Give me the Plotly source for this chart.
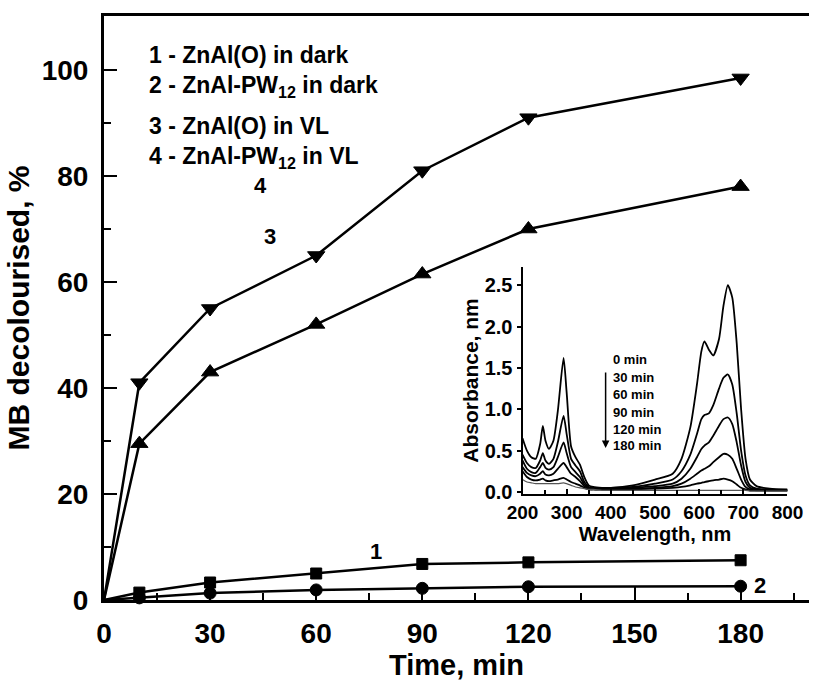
import plotly.graph_objects as go

# ---------------- main chart data ----------------
TIME = [0, 10, 30, 60, 90, 120, 180]
S1_ZNALO_DARK = [0, 1.4, 3.3, 5.0, 6.8, 7.1, 7.5]
S2_ZNALPW_DARK = [0, 0.4, 1.3, 1.9, 2.2, 2.5, 2.6]
S3_ZNALO_VL = [0, 29.5, 43, 52, 61.5, 70, 78]
S4_ZNALPW_VL = [0, 41, 55, 65, 81, 91, 98.5]

X_TICKS = [0, 30, 60, 90, 120, 150, 180]
Y_TICKS = [0, 20, 40, 60, 80, 100]

LEGEND_LINES = [
    "1 - ZnAl(O) in dark",
    "2 - ZnAl-PW<sub>12</sub> in dark",
    "3 - ZnAl(O) in VL",
    "4 - ZnAl-PW<sub>12</sub> in VL",
]

# ---------------- inset spectra data ----------------
WL = [200, 210, 220, 230, 240, 246, 252, 260, 270, 280, 293, 300, 310, 320, 330,
      340, 350, 360, 380, 400, 450, 500, 540, 560, 580, 595, 605, 612, 622, 632,
      645, 655, 665, 675, 685, 695, 705, 715, 730, 760, 800]
A_0 = [0.65, 0.50, 0.42, 0.40, 0.58, 0.80, 0.62, 0.52, 0.62, 0.98, 1.62, 1.20, 0.55, 0.42, 0.33,
       0.18, 0.08, 0.06, 0.05, 0.05, 0.08, 0.15, 0.22, 0.40, 0.78, 1.30, 1.70, 1.82, 1.72, 1.65,
       1.85, 2.25, 2.50, 2.35, 1.80, 1.00, 0.40, 0.15, 0.07, 0.04, 0.03]
A_30 = [0.45, 0.35, 0.30, 0.29, 0.38, 0.47, 0.38, 0.34, 0.40, 0.60, 0.92, 0.70, 0.40, 0.32, 0.25,
        0.12, 0.06, 0.05, 0.05, 0.05, 0.06, 0.10, 0.15, 0.25, 0.45, 0.70, 0.88, 0.93, 0.95, 1.05,
        1.25, 1.38, 1.42, 1.30, 0.95, 0.50, 0.20, 0.08, 0.04, 0.03, 0.02]
A_60 = [0.38, 0.28, 0.24, 0.23, 0.30, 0.35, 0.29, 0.27, 0.30, 0.42, 0.60, 0.47, 0.30, 0.24, 0.18,
        0.09, 0.05, 0.04, 0.04, 0.04, 0.05, 0.07, 0.10, 0.16, 0.28, 0.42, 0.52, 0.56, 0.60, 0.68,
        0.80, 0.88, 0.90, 0.82, 0.60, 0.32, 0.12, 0.05, 0.03, 0.02, 0.02]
A_90 = [0.30, 0.23, 0.20, 0.19, 0.22, 0.25, 0.21, 0.20, 0.22, 0.28, 0.35, 0.30, 0.22, 0.18, 0.13,
        0.07, 0.04, 0.03, 0.03, 0.03, 0.04, 0.05, 0.07, 0.10, 0.16, 0.22, 0.26, 0.28, 0.31, 0.36,
        0.42, 0.46, 0.45, 0.40, 0.28, 0.15, 0.06, 0.03, 0.02, 0.02, 0.02]
A_120 = [0.25, 0.18, 0.15, 0.14, 0.15, 0.16, 0.14, 0.13, 0.14, 0.15, 0.17, 0.15, 0.12, 0.10, 0.08,
         0.05, 0.03, 0.03, 0.03, 0.03, 0.03, 0.04, 0.05, 0.06, 0.08, 0.10, 0.11, 0.12, 0.13, 0.14,
         0.15, 0.16, 0.15, 0.13, 0.09, 0.05, 0.03, 0.02, 0.02, 0.02, 0.02]
A_180 = [0.15, 0.12, 0.11, 0.10, 0.10, 0.10, 0.10, 0.10, 0.10, 0.10, 0.11, 0.10, 0.08, 0.06, 0.05,
         0.04, 0.03, 0.03, 0.02, 0.02, 0.02, 0.02, 0.02, 0.02, 0.02, 0.02, 0.02, 0.02, 0.02, 0.02,
         0.02, 0.02, 0.02, 0.02, 0.02, 0.02, 0.02, 0.01, 0.01, 0.01, 0.01]
SPECTRA_LABELS = ["0 min", "30 min", "60 min", "90 min", "120 min", "180 min"]
WL_TICKS = [200, 300, 400, 500, 600, 700, 800]
ABS_TICKS = [0.0, 0.5, 1.0, 1.5, 2.0, 2.5]

FONT = "Liberation Sans, Arial, sans-serif"
W, H = 825, 684
ML, MR, MT, MB = 104, 0, 16, 84
PW, PH = W - ML - MR, H - MT - MB

fig = go.Figure()

def msizes(size):
    return [0 if t == 0 else size for t in TIME]

main_series = [
    (S1_ZNALO_DARK, "square", 11),
    (S2_ZNALPW_DARK, "circle", 12),
    (S3_ZNALO_VL, "triangle-up", 15),
    (S4_ZNALPW_VL, "triangle-down", 15),
]
for ys, sym, sz in main_series:
    fig.add_trace(go.Scatter(
        x=TIME, y=ys, mode="lines+markers",
        line=dict(color="black", width=2.5),
        marker=dict(symbol=sym, size=msizes(sz), color="black", opacity=1,
                    line=dict(color="black", width=1)),
        showlegend=False, cliponaxis=False))

spectra = [A_0, A_30, A_60, A_90, A_120, A_180]
for i, a in enumerate(spectra):
    last = i == len(spectra) - 1
    fig.add_trace(go.Scatter(
        x=WL, y=a, mode="lines", xaxis="x2", yaxis="y2",
        line=dict(color="#555555" if last else "black", width=1.2 if last else 1.8,
                  shape="spline", smoothing=0.6),
        showlegend=False))

# inset domain in paper coords
ix0, ix1 = (532 - ML) / PW, (803 - ML) / PW
iy0, iy1 = (MT + PH - 494) / PH, (MT + PH - 267) / PH

BOLD = dict(family=FONT, weight="bold", color="black")

fig.update_layout(
    width=W, height=H,
    margin=dict(l=ML, r=MR, t=MT, b=MB),
    paper_bgcolor="white", plot_bgcolor="white",
    font=dict(family=FONT, color="black"),
    xaxis=dict(
        range=[0, PW / 3.617], tickvals=X_TICKS, showgrid=False, zeroline=False,
        showline=True, linewidth=3, linecolor="black", mirror=True,
        ticks="inside", ticklen=13, tickwidth=2, tickcolor="black",
        minor=dict(dtick=15, tick0=0, ticks="inside", ticklen=7, tickwidth=2, tickcolor="black"),
        tickfont=dict(size=28, **BOLD), ticklabelstandoff=6,
        title=dict(text="Time, min", font=dict(size=29, **BOLD), standoff=0),
    ),
    yaxis=dict(
        range=[0, PH / 5.3], tickvals=Y_TICKS, showgrid=False, zeroline=False,
        showline=True, linewidth=3, linecolor="black",
        ticks="inside", ticklen=13, tickwidth=2, tickcolor="black",
        minor=dict(dtick=10, tick0=0, ticks="inside", ticklen=7, tickwidth=2, tickcolor="black"),
        tickfont=dict(size=28, **BOLD), ticklabelstandoff=7,
        title=dict(text="MB decolourised, %", font=dict(size=30, **BOLD), standoff=4),
    ),
    xaxis2=dict(
        domain=[ix0, ix1], anchor="y2", range=[200, 800], tickvals=WL_TICKS,
        showgrid=False, zeroline=False, showline=True, linewidth=2, linecolor="black",
        ticks="inside", ticklen=5, tickwidth=1.5, tickcolor="black",
        minor=dict(dtick=50, tick0=200, ticks="inside", ticklen=4, tickwidth=1.5, tickcolor="black"),
        tickfont=dict(size=19, **BOLD),
        title=dict(text="Wavelength, nm", font=dict(size=20, **BOLD), standoff=0),
    ),
    yaxis2=dict(
        domain=[iy0, iy1], anchor="x2", range=[-0.025, 2.72], tickvals=ABS_TICKS,
        tickformat=".1f", showgrid=False, zeroline=False, showline=True, linewidth=2,
        linecolor="black", ticks="outside", ticklen=4, tickwidth=1.5, tickcolor="black",
        tickfont=dict(size=20, **BOLD),
        title=dict(text="Absorbance, nm", font=dict(size=21, **BOLD), standoff=0),
    ),
)

# legend block (text lines)
legend_y_px = [55, 87, 126, 157]
for txt, ypx in zip(LEGEND_LINES, legend_y_px):
    fig.add_annotation(
        x=(148 - ML) / PW, y=(MT + PH - ypx) / PH, xref="paper", yref="paper",
        text=txt, showarrow=False, xanchor="left", yanchor="middle",
        font=dict(size=23, **BOLD))

# curve numbers
curve_labels = [("1", 77, 9.2), ("2", 185.5, 2.8), ("3", 46.8, 68.5), ("4", 44.3, 78.3)]
for t, xv, yv in curve_labels:
    fig.add_annotation(x=xv, y=yv, xref="x", yref="y", text=t,
                       showarrow=False, font=dict(size=22, **BOLD))

# inset time labels
inset_label_px = [359, 377, 394, 412, 429, 446]
for t, ypx in zip(SPECTRA_LABELS, inset_label_px):
    fig.add_annotation(
        x=(622 - ML) / PW, y=(MT + PH - ypx) / PH, xref="paper", yref="paper",
        text=t, showarrow=False, xanchor="left", yanchor="middle",
        font=dict(size=13, **BOLD))

# arrow in inset
fig.add_annotation(
    x=(617 - ML) / PW, y=(MT + PH - 448) / PH, xref="paper", yref="paper",
    ax=0, ay=-77, text="", showarrow=True, arrowhead=2, arrowsize=1,
    arrowwidth=1.5, arrowcolor="black")

fig.write_html("out.html", config={"displayModeBar": False},
               post_script="document.body.style.margin='0';document.body.style.overflow='hidden';")
